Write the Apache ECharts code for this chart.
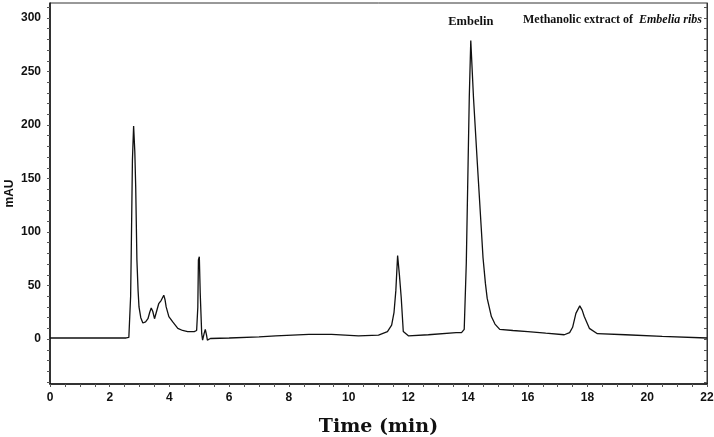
<!DOCTYPE html>
<html>
<head>
    <meta charset="UTF-8"/>
    <title>Methanolic extract of Embelia ribs</title>
    <script src="https://cdn.jsdelivr.net/npm/echarts@6"></script>
    <style>
        body { margin: 0; background: #fff; }
        #chart { width: 714px; height: 437px; }
    </style>
</head>
<body>
<div id="chart"></div>
<script>
    // retention time (min) and absorbance (mAU)
    const times = [0, 1, 2, 2.55, 2.64, 2.70, 2.72, 2.76, 2.80, 2.84, 2.87, 2.91, 2.95, 2.98, 3.04, 3.11,
        3.20, 3.28, 3.34, 3.39, 3.44, 3.50, 3.56, 3.64, 3.72, 3.81, 3.85, 3.89, 3.98, 4.11, 4.28, 4.44,
        4.61, 4.83, 4.91, 4.95, 4.97, 5.00, 5.03, 5.08, 5.11, 5.16, 5.20, 5.24, 5.27, 5.37, 6.0, 7.0,
        7.56, 8.67, 9.43, 10.33, 11.0, 11.3, 11.44, 11.52, 11.58, 11.64, 11.70, 11.76, 11.83, 12.0,
        12.67, 13.6, 13.78, 13.87, 13.94, 14.0, 14.04, 14.09, 14.18, 14.31, 14.44, 14.5, 14.58, 14.64,
        14.78, 14.9, 15.06, 15.5, 16.0, 16.6, 17.22, 17.4, 17.5, 17.61, 17.74, 17.82, 17.89, 18.06,
        18.33, 19.27, 20.5, 22];
    const mAU = [1, 1, 1, 1, 1.5, 40, 80, 167, 199, 175, 142, 74, 45, 30, 20, 15,
        16, 19, 25, 29, 26, 19, 18, 33, 36, 41, 37, 30, 21, 16, 10, 8,
        7, 7, 8, 30, 74, 77, 43, 5, -1, 5, 9, 4, -1, 0.5, 1, 2,
        3, 4.4, 4.4, 3, 3.7, 7, 13, 25, 45, 78, 60, 39, 7, 3,
        4, 6, 6, 9, 71, 164, 226, 279, 226, 164, 104, 76, 52, 38,
        21, 14, 9, 8, 7, 5.5, 4, 6, 11, 24, 31, 27, 21, 10,
        5, 4, 2.5, 1];

    const xLabels = [0, 2, 4, 6, 8, 10, 12, 14, 16, 18, 20, 22];
    const xTicks = Array.from({length: 45}, (_, i) => i * 0.5);
    const yLabels = [0, 50, 100, 150, 200, 250, 300];
    const yTicks = Array.from({length: 36}, (_, i) => -40 + i * 10);

    const peakName = 'Embelin';
    const peakAt = [14.09, 279];

    const tickFont = {
        fontFamily: '"Liberation Sans Narrow", "Liberation Sans", Arial, sans-serif',
        fontWeight: 'bold',
        fontSize: 12,
        color: '#111'
    };
    const serif = '"Liberation Serif", "Times New Roman", serif';

    const chart = echarts.init(document.getElementById('chart'));
    chart.setOption({
        animation: false,
        backgroundColor: '#fff',
        title: {
            text: '{n|Methanolic extract of  }{i|Embelia ribs}',
            right: 7,
            top: 9,
            textStyle: {
                rich: {
                    n: {fontFamily: serif, fontWeight: 'bold', fontSize: 12, color: '#111'},
                    i: {fontFamily: serif, fontWeight: 'bold', fontStyle: 'italic', fontSize: 12, color: '#111'}
                }
            }
        },
        grid: {
            left: 50, right: 7, top: 3, bottom: 53,
            outerBoundsMode: 'none',
            show: true, borderColor: '#333', borderWidth: 1
        },
        xAxis: {
            type: 'value',
            min: 0,
            max: 22,
            name: 'Time (min)',
            nameLocation: 'middle',
            nameGap: 34,
            nameMoveOverlap: false,
            nameTextStyle: {
                fontFamily: '"DejaVu Serif", serif',
                fontWeight: 'bold',
                fontSize: 19,
                color: '#111'
            },
            axisLine: {onZero: false, lineStyle: {color: '#111', width: 1.5}},
            axisTick: {customValues: xTicks, length: 3, lineStyle: {color: '#555'}},
            axisLabel: Object.assign({customValues: xLabels, margin: 8}, tickFont),
            splitLine: {show: false}
        },
        yAxis: [
            {
                type: 'value',
                min: -42,
                max: 314,
                name: 'mAU',
                nameLocation: 'middle',
                nameGap: 34,
                nameMoveOverlap: false,
                nameTextStyle: tickFont,
                axisLine: {show: true, lineStyle: {color: '#111', width: 1.5}},
                axisTick: {customValues: yTicks, length: 3, lineStyle: {color: '#555'}},
                axisLabel: Object.assign({customValues: yLabels, margin: 9}, tickFont),
                splitLine: {show: false}
            },
            {
                type: 'value',
                position: 'right',
                min: -42,
                max: 314,
                axisLine: {show: true, lineStyle: {color: '#333'}},
                axisTick: {customValues: yTicks, inside: true, length: 3, lineStyle: {color: '#555'}},
                axisLabel: {show: false},
                splitLine: {show: false}
            }
        ],
        series: [{
            type: 'line',
            data: times.map((t, i) => [t, mAU[i]]),
            showSymbol: false,
            smooth: false,
            lineStyle: {color: '#111', width: 1.3},
            markPoint: {
                symbol: 'circle',
                symbolSize: 0,
                data: [{coord: peakAt, value: peakName}],
                label: {
                    show: true,
                    formatter: peakName,
                    position: 'top',
                    distance: 12,
                    fontFamily: serif,
                    fontWeight: 'bold',
                    fontSize: 12.5,
                    color: '#111'
                }
            }
        }]
    });
</script>
</body>
</html>
